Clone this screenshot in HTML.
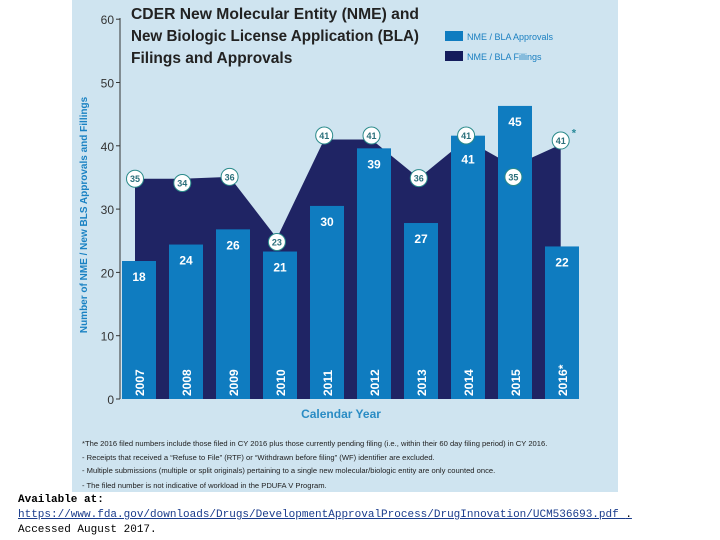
<!DOCTYPE html>
<html><head><meta charset="utf-8"><style>
body{margin:0;width:720px;height:540px;background:#fff;overflow:hidden;font-family:"Liberation Sans",sans-serif;position:relative}
.bt{position:absolute;left:18px;font-family:"Liberation Mono",monospace;font-size:11px;color:#000}
</style></head><body>
<svg width="720" height="540" style="position:absolute;left:0;top:0" id="svg">
<rect x="72" y="0" width="546" height="492" fill="#cfe4f0"/>
<g font-weight="bold" font-size="15.5" fill="#222">
<text x="131" y="19" textLength="288" lengthAdjust="spacingAndGlyphs">CDER New Molecular Entity (NME) and</text>
<text x="131" y="41" textLength="288" lengthAdjust="spacingAndGlyphs">New Biologic License Application (BLA)</text>
<text x="131" y="63">Filings and Approvals</text></g>
<rect x="445" y="31" width="18" height="10" fill="#0f7cc0"/>
<text x="467" y="40" font-size="9" fill="#1a7fc0">NME / BLA Approvals</text>
<rect x="445" y="51" width="18" height="10" fill="#141c5c"/>
<text x="467" y="60" font-size="9" fill="#1a7fc0">NME / BLA Fillings</text>
<text transform="translate(87,215) rotate(-90)" text-anchor="middle" font-size="10" font-weight="bold" fill="#1a82c3">Number of NME / New BLS Approvals and Fillings</text>
<g id="plot"></g>
<text x="341" y="418" text-anchor="middle" font-size="12" font-weight="bold" fill="#2a8cc4">Calendar Year</text>
<g font-size="7.6" fill="#222">
<text x="82" y="446">*The 2016 filed numbers include those filed in CY 2016 plus those currently pending filing (i.e., within their 60 day filing period) in CY 2016.</text>
<text x="82" y="460">- Receipts that received a “Refuse to File” (RTF) or “Withdrawn before filing” (WF) identifier are excluded.</text>
<text x="82" y="473">- Multiple submissions (multiple or split originals) pertaining to a single new molecular/biologic entity are only counted once.</text>
<text x="82" y="488">- The filed number is not indicative of workload in the PDUFA V Program.</text></g>
</svg>
<div class="bt" style="top:494px;font-weight:bold">Available at:</div>
<div class="bt" style="top:509px;color:#1a3c8c;text-decoration:underline">https://www.fda.gov/downloads/Drugs/DevelopmentApprovalProcess/DrugInnovation/UCM536693.pdf <span style="color:#000;text-decoration:none">.</span></div>
<div class="bt" style="top:524px">Accessed August 2017.</div>
<script>
const years=["2007","2008","2009","2010","2011","2012","2013","2014","2015","2016*"];
const approvals=[21.8,24.4,26.8,23.3,30.5,39.6,27.8,41.6,46.3,24.1];
const approvalLabels=["18","24","26","21","30","39","27","41","45","22"];
const filings=[34.8,34.8,35.1,25.4,41,41,34.9,41,36.8,40.2];
const filingLabels=["35","34","36","23","41","41","36","41","35","41"];
const yTicks=[0,10,20,30,40,50,60];
const NS="http://www.w3.org/2000/svg";
const g=document.getElementById('plot');
const y=v=>399-v*6.33;
const bx=i=>122+i*47;
const px=i=>135+i*47.3;
function mk(t,a,p){const e=document.createElementNS(NS,t);for(const k in a)e.setAttribute(k,a[k]);(p||g).appendChild(e);return e;}
let pts=`${px(0)},${y(0)} `+filings.map((v,i)=>`${px(i)},${y(v)}`).join(' ')+` ${px(9)},${y(0)}`;
const area=mk('polygon',{points:pts,fill:'#1f2464'});


approvals.forEach((v,i)=>{
 const r=mk('rect',{x:bx(i),y:y(v),width:34,height:y(0)-y(v),fill:'#0f7cc0'});
 
 
 const off=(i==7)?28:20;
 const t=mk('text',{x:bx(i)+17,y:y(v)+off,'text-anchor':'middle','font-size':12,'font-weight':'bold',fill:'#fff'});
 t.textContent=approvalLabels[i];
 
 
 const yl=mk('text',{transform:`translate(${bx(i)+22},396) rotate(-90)`,'font-size':12,'font-weight':'bold',fill:'#fff'});
 yl.textContent=years[i];
 
 
});
filings.forEach((v,i)=>{
 let cy=y(v); if(v>=40) cy-=4; if(i==8) cy=177; if(i==3) cy=242; if(i==1) cy=183;
 const c=mk('circle',{cx:px(i),cy:cy,r:8.5,fill:'#fff',stroke:'#2a8a8a','stroke-width':1});
 
 
 const t=mk('text',{x:px(i),y:cy+3.5,'text-anchor':'middle','font-size':9,'font-weight':'bold',fill:'#2a6f7a'});
 t.textContent=filingLabels[i];
 
 
});
const st=mk('text',{x:px(9)+11,y:y(filings[9])-8,'font-size':11,'font-weight':'bold',fill:'#2a8a9a'});st.textContent='*';


const ax=mk('line',{x1:120,y1:18,x2:120,y2:y(0),stroke:'#333','stroke-width':1});


yTicks.forEach(v=>{
 const l=mk('line',{x1:116,y1:y(v),x2:120,y2:y(v),stroke:'#333'});
 
 
 const t=mk('text',{x:114,y:y(v)+5,'text-anchor':'end','font-size':12,fill:'#333'});
 t.textContent=v;
 
 
});
</script>
</body></html>
